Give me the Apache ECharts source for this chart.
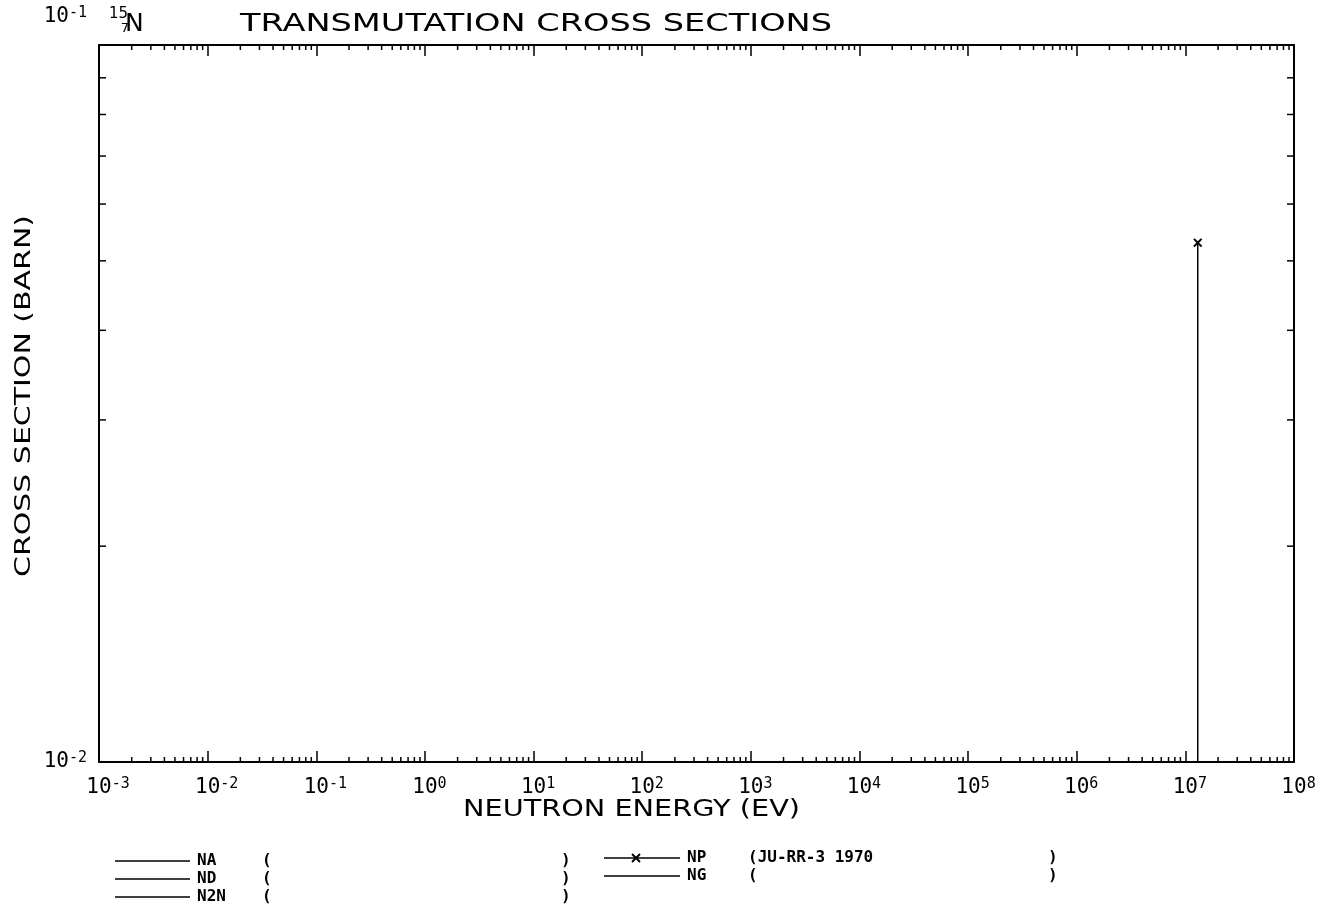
<!DOCTYPE html>
<html><head><meta charset="utf-8">
<script src="https://cdn.jsdelivr.net/npm/echarts@6/dist/echarts.min.js"></script>
<style>html,body{margin:0;padding:0;background:#fff}#c{width:1335px;height:912px}</style>
</head><body><div id="c"></div>
<script>
// ---- data ----
const titleText = 'TRANSMUTATION CROSS SECTIONS';
const xAxisTitle = 'NEUTRON ENERGY (EV)';
const yAxisTitle = 'CROSS SECTION (BARN)';
const isotopeMass = '15';
const isotopeZ = '7';
const isotopeSym = 'N';
const xMin = 1e-3, xMax = 1e8;
const yMin = 1e-2, yMax = 1e-1;
const xTickSups = ['-3','-2','-1','0','1','2','3','4','5','6','7','8'];
const yTickSups = ['-2','-1'];
const minorMultipliers = [2,3,4,5,6,7,8,9];
const reactions = ['NA','ND','N2N','NP','NG'];
const references = ['','','','JU-RR-3 1970',''];
const npEnergy = [1.3e7, 1.3e7];
const npSigma = [0.01, 0.053];

// ---- helpers ----
const mctx = document.createElement('canvas').getContext('2d');
function fit(text, font, target){ mctx.font = font; return target / mctx.measureText(text).width; }
const BASE = 'DejaVu Sans Mono';
const supOf = v => String(Math.round(Math.log10(v)));

const xMinorTicks = [];
for (let d = 0; d < xTickSups.length - 1; d++) {
  const dec = Math.pow(10, parseInt(xTickSups[d], 10));
  minorMultipliers.forEach(m => xMinorTicks.push([m * dec, yMin]));
}
const yMinorTicks = [];
for (let d = 0; d < yTickSups.length - 1; d++) {
  const dec = Math.pow(10, parseInt(yTickSups[d], 10));
  minorMultipliers.forEach(m => yMinorTicks.push([xMin, m * dec]));
}

const richX = {
  p: {fontFamily: BASE, fontSize: 15, color: 'rgba(0,0,0,0)', verticalAlign: 'top', lineHeight: 13},
  b: {fontFamily: BASE, fontSize: 21, color: '#000', lineHeight: 22},
  s: {fontFamily: BASE, fontSize: 15, color: '#000', verticalAlign: 'top', lineHeight: 13}
};
const richY = {
  b: {fontFamily: BASE, fontSize: 21, color: '#000', lineHeight: 22},
  s: {fontFamily: BASE, fontSize: 15, color: '#000', verticalAlign: 'top', lineHeight: 13},
  g: {height: 56, lineHeight: 56}
};

const lineStyleK = {color: '#000', width: 2};

function tickLine(x1, y1, x2, y2) {
  return {type: 'line', shape: {x1, y1, x2, y2}, style: {stroke: '#000', lineWidth: 1.5}};
}

const xPath = 'path://M0,1.5L1.5,0L5,3.5L8.5,0L10,1.5L6.5,5L10,8.5L8.5,10L5,6.5L1.5,10L0,8.5L3.5,5Z';

const chart = echarts.init(document.getElementById('c'), null, {renderer: 'canvas'});

const graphics = [];
// title
const titleFont = '25px "DejaVu Sans"';
graphics.push({type: 'text', x: 240, y: 24, scaleX: fit(titleText, titleFont, 592),
  style: {text: titleText, font: titleFont, fill: '#000', textAlign: 'left', textVerticalAlign: 'middle'}});
// isotope
graphics.push({type: 'text', x: 125, y: 24, style: {text: isotopeSym, font: '25px "DejaVu Sans"', fill: '#000', textAlign: 'left', textVerticalAlign: 'middle'}});
graphics.push({type: 'text', x: 109, y: 14, style: {text: isotopeMass, font: '15px "DejaVu Sans"', fill: '#000', textAlign: 'left', textVerticalAlign: 'middle'}});
graphics.push({type: 'text', x: 129, y: 29, style: {text: isotopeZ, font: '13px "DejaVu Sans"', fill: '#000', textAlign: 'right', textVerticalAlign: 'middle'}});
// axis titles
const axFont = '23px "DejaVu Sans"';
graphics.push({type: 'text', x: 463, y: 810, scaleX: fit(xAxisTitle, axFont, 337),
  style: {text: xAxisTitle, font: axFont, fill: '#000', textAlign: 'left', textVerticalAlign: 'middle'}});
const ayFont = '22px "DejaVu Sans"';
graphics.push({type: 'text', x: 24, y: 396, rotation: Math.PI / 2, scaleX: fit(yAxisTitle, ayFont, 362),
  style: {text: yAxisTitle, font: ayFont, fill: '#000', textAlign: 'center', textVerticalAlign: 'middle'}});

// legend
const legFont = 'bold 16px "DejaVu Sans Mono"';
const legLayout = [
  {lx1: 115, lx2: 190, tx: 197, px: 262, cx: 561, y: 861},
  {lx1: 115, lx2: 190, tx: 197, px: 262, cx: 561, y: 879},
  {lx1: 115, lx2: 190, tx: 197, px: 262, cx: 561, y: 897},
  {lx1: 604, lx2: 680, tx: 687, px: 748, cx: 1048, y: 858, mark: 636},
  {lx1: 604, lx2: 680, tx: 687, px: 748, cx: 1048, y: 876}
];
reactions.forEach((r, i) => {
  const L = legLayout[i];
  graphics.push({type: 'line', shape: {x1: L.lx1, y1: L.y, x2: L.lx2, y2: L.y}, style: {stroke: '#000', lineWidth: 1.5}});
  if (L.mark) {
    graphics.push({type: 'line', shape: {x1: L.mark - 4, y1: L.y - 4, x2: L.mark + 4, y2: L.y + 4}, style: {stroke: '#000', lineWidth: 2}});
    graphics.push({type: 'line', shape: {x1: L.mark - 4, y1: L.y + 4, x2: L.mark + 4, y2: L.y - 4}, style: {stroke: '#000', lineWidth: 2}});
  }
  graphics.push({type: 'text', x: L.tx, y: L.y, style: {text: r, font: legFont, fill: '#000', textAlign: 'left', textVerticalAlign: 'middle'}});
  graphics.push({type: 'text', x: L.px, y: L.y, style: {text: '(' + references[i], font: legFont, fill: '#000', textAlign: 'left', textVerticalAlign: 'middle'}});
  graphics.push({type: 'text', x: L.cx, y: L.y, style: {text: ')', font: legFont, fill: '#000', textAlign: 'left', textVerticalAlign: 'middle'}});
});

function baseX(pos, showLabel) {
  return {
    type: 'log', logBase: 10, min: xMin, max: xMax, interval: 1, position: pos,
    axisLine: {show: true, onZero: false, lineStyle: lineStyleK},
    axisTick: {show: true, inside: true, length: 11, lineStyle: {color: '#000', width: 1.5}},
    splitLine: {show: false}, minorTick: {show: false},
    axisLabel: showLabel ? {
      show: true, margin: 15, rich: richX, showMinLabel: true, showMaxLabel: true,
      formatter: v => { const s = supOf(v); return '{p|' + s + '}{b|10}{s|' + s + '}'; }
    } : {show: false}
  };
}
function baseY(pos, showLabel) {
  return {
    type: 'log', logBase: 10, min: yMin, max: yMax, interval: 1, position: pos,
    axisLine: {show: true, onZero: false, lineStyle: lineStyleK},
    axisTick: {show: false},
    splitLine: {show: false},
    axisLabel: showLabel ? {
      show: true, margin: 12, rich: richY, showMinLabel: true, showMaxLabel: true,
      formatter: v => { const s = supOf(v); return s === yTickSups[yTickSups.length - 1] ? '{b|10}{s|' + s + '}\n{g|}' : '{b|10}{s|' + s + '}'; }
    } : {show: false}
  };
}

const npData = npEnergy.map((e, i) => ({value: [e, npSigma[i]], symbol: i === npEnergy.length - 1 ? xPath : 'none'}));

const option = {
  backgroundColor: '#fff',
  animation: false,
  grid: {left: 99, right: 41, top: 45, bottom: 150, containLabel: false},
  xAxis: [baseX('bottom', true), baseX('top', false)],
  yAxis: [baseY('left', true), baseY('right', false)],
  graphic: {elements: graphics},
  series: [
    {name: reactions[0], type: 'line', data: [], showSymbol: false},
    {name: reactions[1], type: 'line', data: [], showSymbol: false},
    {name: reactions[2], type: 'line', data: [], showSymbol: false},
    {name: reactions[3], type: 'line', data: npData, symbolSize: 9,
      lineStyle: {color: '#000', width: 1.5}, itemStyle: {color: '#000'}, clip: true},
    {name: reactions[4], type: 'line', data: [], showSymbol: false},
    {name: 'xminor', type: 'custom', data: xMinorTicks, silent: true,
      renderItem: (params, api) => {
        const v = api.value(0);
        const b = api.coord([v, yMin]);
        const t = api.coord([v, yMax]);
        return {type: 'group', children: [tickLine(b[0], b[1], b[0], b[1] - 5), tickLine(t[0], t[1], t[0], t[1] + 5)]};
      }},
    {name: 'yminor', type: 'custom', data: yMinorTicks, silent: true,
      renderItem: (params, api) => {
        const v = api.value(1);
        const l = api.coord([xMin, v]);
        const r = api.coord([xMax, v]);
        return {type: 'group', children: [tickLine(l[0], l[1], l[0] + 7, l[1]), tickLine(r[0], r[1], r[0] - 7, r[1])]};
      }}
  ]
};
chart.setOption(option);
</script>
</body></html>
